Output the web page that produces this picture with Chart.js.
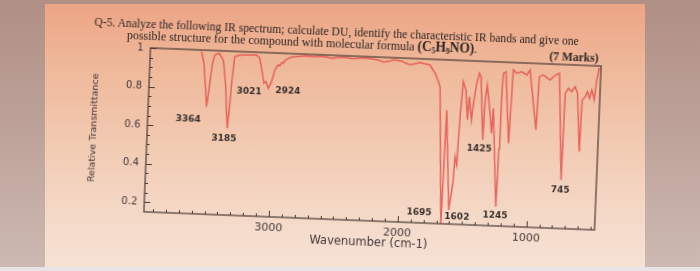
<!DOCTYPE html>
<html>
<head>
<meta charset="utf-8">
<script src="https://cdn.jsdelivr.net/npm/chart.js@4.4.1/dist/chart.umd.min.js"></script>
<style>
  body {
    margin: 0;
    width: 700px;
    height: 271px;
    overflow: hidden;
    position: relative;
    background: linear-gradient(180deg, #b08f85 0%, #bea39a 50%, #cdbab3 100%);
  }
  #paper {
    position: absolute;
    left: 45px;
    top: 4px;
    width: 600px;
    height: 263px;
    background: linear-gradient(180deg, #eca585 0%, #efb99b 25%, #f2cbb3 55%, #f5dbcb 85%, #f6e2d5 100%);
  }
  #bottomstrip {
    position: absolute;
    left: 0;
    top: 267px;
    width: 700px;
    height: 4px;
    background: #e9e4e3;
  }
  #sheet {
    position: absolute;
    left: 0;
    top: 0;
    width: 700px;
    height: 271px;
    transform: rotate(2.3deg);
    transform-origin: 374px 139px;
  }
  .q {
    position: absolute;
    font-family: "Liberation Serif", serif;
    font-size: 12.5px;
    line-height: 16px;
    height: 16px;
    color: #2e2422;
    white-space: nowrap;
    transform-origin: 0 50%;
  }
  .q b { font-weight: bold; }
  .q .big { font-size: 14px; }
  .q sub { font-size: 8px; line-height: 0; vertical-align: -2px; }
  canvas { position: absolute; left: 0; top: 0; }
</style>
</head>
<body>
<div id="paper"></div>
<div id="bottomstrip"></div>
<div id="sheet">
  <canvas id="spectrum" width="700" height="271"></canvas>
  <div class="q" data-w="485" style="left:90px; top:25px;">Q-5. Analyze the following IR spectrum; calculate DU, identify the characteristic IR bands and give one</div>
  <div class="q" data-w="351" style="left:123px; top:37px;">possible structure for the compound with molecular formula <b class="big">(C<sub>5</sub>H<sub>9</sub>NO)</b>.</div>
  <div class="q" data-w="49" style="left:546px; top:41px;"><b>(7 Marks)</b></div>
</div>
<script>
// spectrum (cm-1, relative transmittance)
const wavenumbers = [
  3573, 3550, 3530, 3517, 3503, 3485, 3469, 3435, 3400, 3375, 3360, 3350, 3340, 3328, 3313,
  3274, 3200, 3144, 3120, 3102, 3079, 3064, 3044, 3020, 2998, 2974, 2960, 2948, 2935, 2924,
  2899, 2860, 2756, 2700, 2650, 2600, 2560, 2520, 2450, 2400, 2350, 2300, 2250, 2200, 2160,
  2120, 2080, 2020, 1990, 1952, 1875, 1840, 1798, 1755, 1727, 1712, 1664, 1653, 1607, 1583,
  1574, 1559, 1548, 1533, 1510, 1490, 1482, 1459, 1448, 1428, 1411, 1397, 1365, 1358, 1346,
  1323, 1299, 1292, 1243, 1237, 1232, 1225, 1205, 1164, 1149, 1121, 1084, 1043, 1019, 956,
  945, 915, 861, 822, 790, 745, 739, 716, 690, 665, 644, 613, 606, 583, 568,
  550, 534, 513, 499, 484
];
const transmittance = [
  0.992, 0.93, 0.80, 0.708, 0.80, 0.93, 0.977, 0.987, 0.95, 0.82, 0.68, 0.600, 0.70, 0.85, 0.973,
  0.982, 0.985, 0.986, 0.97, 0.918, 0.841, 0.850, 0.816, 0.851, 0.912, 0.939, 0.935, 0.951, 0.948, 0.962,
  0.975, 0.984, 0.991, 0.988, 0.992, 0.99, 0.983, 0.99, 0.992, 0.986, 0.99, 0.993, 0.99, 0.985, 0.975,
  0.98, 0.99, 0.985, 0.975, 0.966, 0.98, 0.975, 0.970, 0.928, 0.886, 0.860, 0.15, 0.740, 0.223, 0.362,
  0.500, 0.458, 0.708, 0.891, 0.848, 0.693, 0.814, 0.694, 0.781, 0.885, 0.937, 0.920, 0.593, 0.800, 0.878,
  0.766, 0.629, 0.759, 0.250, 0.55, 0.80, 0.942, 0.95, 0.581, 0.962, 0.945, 0.954, 0.938, 0.965, 0.656,
  0.932, 0.942, 0.917, 0.944, 0.954, 0.402, 0.851, 0.878, 0.861, 0.888, 0.854, 0.552, 0.820, 0.838, 0.864,
  0.831, 0.874, 0.823, 0.927, 0.990
];
const xTickLabels = [3000, 2000, 1000];
const yTickLabels = [0.2, 0.4, 0.6, 0.8, 1];
const peakNames = ["3364", "3185", "3021", "2924", "1695", "1602", "1425", "1245", "745"];
const peakLabelX = [3655, 3372, 3192, 2892, 1836, 1542, 1389, 1246, 749];
const peakLabelY = [0.640, 0.544, 0.794, 0.807, 0.202, 0.187, 0.544, 0.202, 0.350];

// squeeze the question lines to the width they have in the photo
document.querySelectorAll(".q").forEach((el) => {
  const w = el.offsetWidth;
  el.style.transform = `scaleX(${el.dataset.w / w})`;
});

const points = wavenumbers.map((w, i) => ({ x: w, y: transmittance[i] }));

const frameAndTicks = {
  id: "frameAndTicks",
  afterDatasetsDraw(chart) {
    const { ctx, chartArea: a, scales: { x, y } } = chart;
    ctx.save();
    ctx.strokeStyle = "#4a3935";
    ctx.lineWidth = 1.2;
    ctx.strokeRect(a.left, a.top, a.right - a.left, a.bottom - a.top);
    ctx.beginPath();
    for (let v = 500; v <= 3900; v += 100) {
      const px = Math.round(x.getPixelForValue(v)) + 0.5;
      const len = v % 1000 === 0 ? 6 : 3;
      ctx.moveTo(px, a.bottom);
      ctx.lineTo(px, a.bottom - len);
    }
    for (let k = 4; k <= 20; k++) {
      const py = Math.round(y.getPixelForValue(k * 0.05)) + 0.5;
      const len = k % 4 === 0 ? 6 : 3;
      ctx.moveTo(a.left, py);
      ctx.lineTo(a.left + len, py);
    }
    ctx.lineWidth = 1;
    ctx.stroke();

    ctx.fillStyle = "#3a2f2d";
    ctx.font = "bold 9px 'DejaVu Sans'";
    ctx.textAlign = "center";
    ctx.textBaseline = "middle";
    peakNames.forEach((t, i) => {
      ctx.fillText(t, x.getPixelForValue(peakLabelX[i]), y.getPixelForValue(peakLabelY[i]));
    });
    ctx.restore();
  },
};

const ctx = document.getElementById("spectrum").getContext("2d");
const spectrumChart = new Chart(ctx, {
  type: "line",
  data: {
    datasets: [
      {
        data: points,
        borderColor: "rgba(230, 84, 80, 0.88)",
        borderWidth: 1.5,
        pointRadius: 0,
        tension: 0,
        fill: false,
      },
    ],
  },
  options: {
    responsive: false,
    animation: false,
    layout: { padding: { top: 57, right: 102, left: 0, bottom: 0 } },
    plugins: { legend: { display: false }, tooltip: { enabled: false } },
    scales: {
      x: {
        type: "linear",
        reverse: true,
        min: 470,
        max: 3970,
        afterBuildTicks: (s) => {
          s.ticks = xTickLabels.map((v) => ({ value: v }));
        },
        afterFit: (s) => {
          s.height = 50;
        },
        grid: { display: false, drawTicks: false },
        border: { display: false },
        ticks: {
          padding: 5,
          maxRotation: 0,
          color: "#45383a",
          font: { family: "DejaVu Sans", size: 11 },
          callback: (v) => String(v),
        },
        title: {
          display: true,
          text: "Wavenumber (cm-1)",
          color: "#45383a",
          font: { family: "DejaVu Sans", size: 11.5 },
          padding: { top: 0, bottom: 21.5 },
        },
      },
      y: {
        min: 0.15,
        max: 1,
        afterBuildTicks: (s) => {
          s.ticks = yTickLabels.map((v) => ({ value: v }));
        },
        afterFit: (s) => {
          s.width = 147;
        },
        grid: { display: false, drawTicks: false },
        border: { display: false },
        ticks: {
          padding: 7,
          color: "#45383a",
          font: { family: "DejaVu Sans", size: 10 },
          callback: (v) => (v === 1 ? "1" : v.toFixed(1)),
        },
        title: {
          display: true,
          text: "Relative Transmittance",
          color: "#45383a",
          font: { family: "DejaVu Sans", size: 9.5 },
          padding: { top: 87.5, bottom: 0 },
        },
      },
    },
  },
  plugins: [frameAndTicks],
});
</script>
</body>
</html>
